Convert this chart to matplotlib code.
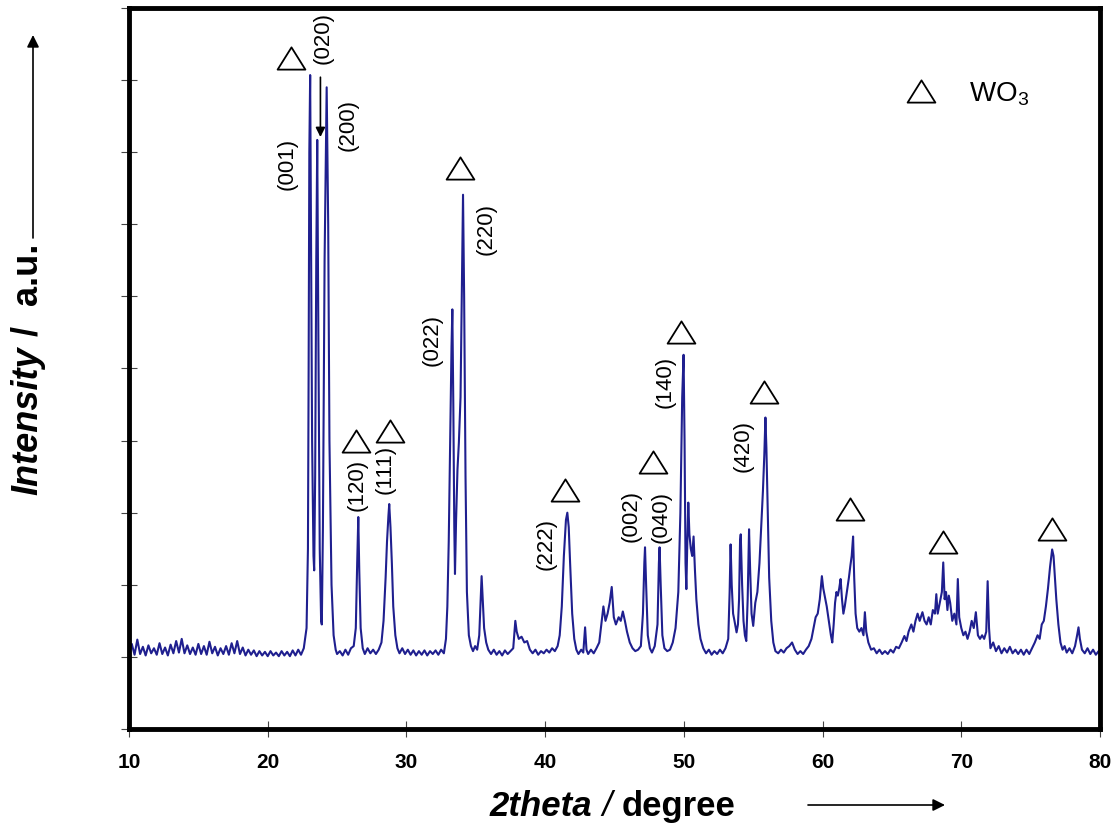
import matplotlib
matplotlib.use('Agg')
import matplotlib.pyplot as plt
from matplotlib.path import Path

# XRD pattern (2theta in degrees, intensity in arbitrary units)
two_theta = [
    # flat noisy start
    10.0, 10.2, 10.4, 10.6, 10.8, 11.0, 11.2, 11.4, 11.6, 11.8, 12.0, 12.2, 12.4, 12.6, 12.8,
    13.0, 13.2, 13.4, 13.6, 13.8, 14.0, 14.2, 14.4, 14.6, 14.8, 15.0, 15.2, 15.4, 15.6, 15.8,
    16.0, 16.2, 16.4, 16.6, 16.8, 17.0, 17.2, 17.4, 17.6, 17.8, 18.0, 18.2, 18.4, 18.6, 18.8,
    19.0, 19.2, 19.4, 19.6, 19.8, 20.0, 20.2, 20.4, 20.6, 20.8, 21.0, 21.2, 21.4, 21.6, 21.8,
    22.0, 22.2, 22.4, 22.6,
    # (001) (020) (200)
    22.8, 22.9, 22.95, 23.0, 23.06, 23.12, 23.2, 23.3, 23.35, 23.42, 23.5, 23.57, 23.65, 23.75,
    23.85, 23.9, 23.98, 24.1, 24.25, 24.36, 24.45, 24.6, 24.75, 24.9, 25.0,
    # (120) (111)
    25.2, 25.4, 25.6, 25.8, 26.0, 26.2, 26.35, 26.45, 26.53, 26.6, 26.7, 26.85, 27.0, 27.2, 27.4,
    27.6, 27.8, 28.0, 28.2, 28.35, 28.5, 28.6, 28.7, 28.76, 28.85, 28.95, 29.05, 29.2, 29.35, 29.5,
    29.7, 29.9, 30.1, 30.3, 30.5, 30.7, 30.9, 31.1, 31.3, 31.5, 31.7, 31.9, 32.1, 32.3, 32.5, 32.7,
    # (022) (220)
    32.85, 32.95, 33.05, 33.15, 33.25, 33.31, 33.38, 33.45, 33.5, 33.58, 33.68, 33.78, 33.9, 34.0,
    34.08, 34.16, 34.26, 34.36, 34.5, 34.65, 34.8, 34.95, 35.1, 35.25, 35.35, 35.42, 35.5, 35.6,
    35.75, 35.9, 36.1, 36.3, 36.5, 36.7, 36.9, 37.1, 37.3, 37.5, 37.7, 37.85, 37.95, 38.1, 38.3,
    38.5, 38.7, 38.9, 39.1, 39.3, 39.5, 39.7, 39.9, 40.1, 40.3, 40.5, 40.7, 40.9,
    # (222)
    41.05, 41.2, 41.35, 41.5, 41.6, 41.7, 41.8, 41.95, 42.1, 42.25, 42.4, 42.6, 42.75, 42.88, 42.98,
    43.1, 43.3, 43.5, 43.7, 43.9, 44.05, 44.2, 44.35, 44.5, 44.65, 44.8, 44.95, 45.1, 45.3, 45.45,
    45.6, 45.75, 45.9, 46.1, 46.3, 46.5, 46.7, 46.9,
    # (002) (040) (140)
    47.05, 47.15, 47.2, 47.28, 47.4, 47.55, 47.7, 47.9, 48.1, 48.2, 48.25, 48.33, 48.45, 48.6,
    48.8, 49.0, 49.2, 49.4, 49.6, 49.75, 49.88, 49.98, 50.05, 50.12, 50.18, 50.25, 50.32, 50.4,
    50.5, 50.6, 50.7, 50.8, 50.9, 51.05, 51.2, 51.4, 51.6, 51.8, 52.0, 52.2, 52.4, 52.6, 52.8,
    # (420) group
    53.0, 53.2, 53.3, 53.37, 53.45, 53.55, 53.65, 53.8, 53.9, 53.98, 54.05, 54.1, 54.2, 54.3,
    54.4, 54.5, 54.6, 54.7, 54.78, 54.88, 55.0, 55.15, 55.3, 55.45, 55.6, 55.7, 55.8, 55.88,
    55.95, 56.05, 56.15, 56.3, 56.45, 56.6, 56.8, 57.0, 57.2, 57.4, 57.6, 57.8, 58.0, 58.2,
    58.4, 58.6, 58.8,
    # 60-63 hump
    59.0, 59.2, 59.35, 59.5, 59.65, 59.8, 59.95, 60.05, 60.15, 60.3, 60.45, 60.6, 60.7, 60.8,
    60.9, 61.0, 61.1, 61.2, 61.3, 61.4, 61.5, 61.6, 61.75, 61.9, 62.0, 62.1, 62.2, 62.28, 62.38,
    62.5, 62.65, 62.8, 62.95, 63.05, 63.15, 63.3, 63.5, 63.7, 63.9, 64.1, 64.3, 64.5, 64.7, 64.9,
    # 66-72 hump
    65.1, 65.3, 65.5, 65.7, 65.9, 66.05, 66.2, 66.4, 66.55, 66.7, 66.85, 67.0, 67.2, 67.35, 67.5,
    67.65, 67.8, 67.95, 68.1, 68.2, 68.3, 68.45, 68.6, 68.7, 68.8, 68.9, 69.0, 69.1, 69.2, 69.35,
    69.5, 69.65, 69.75, 69.85, 70.0, 70.15, 70.3, 70.45, 70.6, 70.75, 70.9, 71.05, 71.2, 71.35,
    71.5, 71.65, 71.8, 71.9, 72.0, 72.1, 72.3, 72.5, 72.7, 72.9, 73.1, 73.3, 73.5, 73.7, 73.9,
    74.1, 74.3, 74.5, 74.7, 74.9,
    # 76.5 peak and tail
    75.1, 75.3, 75.5, 75.65, 75.8, 75.95, 76.1, 76.25, 76.4, 76.55, 76.65, 76.75, 76.85, 77.0,
    77.15, 77.3, 77.45, 77.6, 77.8, 78.0, 78.2, 78.35, 78.45, 78.55, 78.7, 78.9, 79.1, 79.3,
    79.5, 79.7, 79.9, 80.0,
]

intensity = [
    1.05, 1.18, 1.03, 1.24, 1.04, 1.14, 1.02, 1.16, 1.05, 1.12, 1.03, 1.19, 1.04, 1.13, 1.02,
    1.17, 1.05, 1.22, 1.06, 1.25, 1.05, 1.16, 1.04, 1.13, 1.03, 1.18, 1.04, 1.15, 1.03, 1.21,
    1.05, 1.14, 1.02, 1.12, 1.04, 1.15, 1.03, 1.19, 1.05, 1.22, 1.04, 1.13, 1.02, 1.10, 1.03,
    1.09, 1.01, 1.08, 1.02, 1.07, 1.01, 1.08, 1.02, 1.06, 1.01, 1.08, 1.02, 1.07, 1.01, 1.09,
    1.02, 1.10, 1.03, 1.12,
    1.4, 2.5, 5.0, 8.0, 9.07, 7.0, 4.0, 2.4, 2.2, 3.5, 6.5, 8.17, 5.5, 2.5,
    1.5, 1.45, 2.8, 6.5, 8.9, 7.0, 4.0, 2.0, 1.3, 1.1, 1.04,
    1.08, 1.02, 1.10, 1.03, 1.12, 1.15, 1.4, 2.3, 2.94, 2.2, 1.4, 1.12, 1.04, 1.12, 1.05,
    1.10, 1.04, 1.10, 1.2, 1.5, 2.1, 2.6, 2.95, 3.12, 2.8, 2.3, 1.7, 1.3, 1.12, 1.05,
    1.12, 1.04, 1.10, 1.03, 1.09, 1.02, 1.08, 1.03, 1.09, 1.02, 1.08, 1.04, 1.09, 1.03, 1.10, 1.05,
    1.25, 1.7, 2.6, 4.0, 5.3, 5.82, 4.5, 2.8, 2.15, 2.9, 3.6, 3.97, 4.6, 6.2,
    7.41, 6.0, 3.5, 1.9, 1.3, 1.15, 1.08, 1.15, 1.10, 1.3, 1.8, 2.12, 1.8, 1.4,
    1.2, 1.10, 1.04, 1.10, 1.03, 1.08, 1.02, 1.09, 1.04, 1.08, 1.12, 1.5, 1.35, 1.25, 1.28,
    1.2, 1.22, 1.10, 1.05, 1.10, 1.03, 1.08, 1.05, 1.10, 1.06, 1.12, 1.08, 1.15,
    1.3, 1.7, 2.4, 2.9, 3.0, 2.8, 2.3, 1.6, 1.25, 1.10, 1.04, 1.10, 1.06, 1.41, 1.10,
    1.04, 1.10, 1.05, 1.12, 1.2, 1.45, 1.7, 1.5, 1.6, 1.75, 1.97, 1.55, 1.45, 1.55, 1.5,
    1.63, 1.5, 1.35, 1.2, 1.12, 1.08, 1.10, 1.15,
    1.6, 2.3, 2.52, 2.0, 1.3, 1.12, 1.06, 1.15, 1.45, 2.3, 2.52, 2.0, 1.3, 1.12,
    1.08, 1.10, 1.2, 1.4, 1.9, 3.0, 4.6, 5.19, 4.0, 2.3, 1.94, 2.6, 3.14, 2.7,
    2.5, 2.4, 2.67, 2.2, 1.8, 1.45, 1.25, 1.12, 1.05, 1.10, 1.03, 1.08, 1.04, 1.10, 1.05,
    1.12, 1.25, 1.9, 2.56, 2.0, 1.6, 1.5, 1.34, 1.45, 1.8, 2.6, 2.7, 2.0, 1.5,
    1.3, 1.22, 1.8, 2.77, 2.2, 1.6, 1.43, 1.75, 1.9, 2.3, 2.9, 3.3, 3.8, 4.32,
    3.9, 3.0, 2.1, 1.5, 1.2, 1.08, 1.05, 1.10, 1.06, 1.12, 1.15, 1.2, 1.10, 1.04,
    1.08, 1.04, 1.10,
    1.15, 1.25, 1.4, 1.55, 1.6, 1.8, 2.12, 1.95, 1.85, 1.7, 1.5, 1.3, 1.2, 1.45,
    1.75, 1.9, 1.85, 1.95, 2.08, 1.8, 1.6, 1.7, 1.9, 2.1, 2.26, 2.4, 2.67, 2.1, 1.6,
    1.4, 1.35, 1.4, 1.3, 1.62, 1.35, 1.2, 1.10, 1.12, 1.05, 1.10, 1.04, 1.08, 1.04, 1.10,
    1.06, 1.14, 1.12, 1.2, 1.29, 1.22, 1.35, 1.45, 1.35, 1.5, 1.6, 1.5, 1.62, 1.5, 1.45,
    1.55, 1.45, 1.65, 1.6, 1.87, 1.6, 1.75, 1.9, 2.31, 1.8, 1.9, 1.65, 1.85, 1.75, 1.5,
    1.6, 1.45, 2.08, 1.55, 1.4, 1.3, 1.35, 1.25, 1.35, 1.5, 1.4, 1.62, 1.3, 1.25,
    1.3, 1.25, 1.35, 2.05, 1.4, 1.12, 1.2, 1.08, 1.15, 1.05, 1.12, 1.06, 1.14, 1.05, 1.10,
    1.04, 1.10, 1.03, 1.10, 1.04,
    1.12, 1.2, 1.3, 1.25, 1.45, 1.5, 1.7, 1.95, 2.25, 2.49, 2.4, 2.1, 1.8, 1.45,
    1.2, 1.10, 1.15, 1.06, 1.12, 1.05, 1.15, 1.3, 1.41, 1.25, 1.10, 1.05, 1.12, 1.04,
    1.10, 1.03, 1.08, 1.05,
]

# Miller indices written next to the peaks
hkl_text = ['(001)', '(020)', '(200)', '(120)', '(111)', '(022)', '(220)',
            '(222)', '(002)', '(040)', '(140)', '(420)']
hkl_x = [21.40, 24.00, 25.80, 26.45, 28.47, 31.87, 35.76, 40.09, 46.23, 48.39, 48.68, 54.24]
hkl_y = [7.84, 9.58, 8.38, 3.39, 3.60, 5.40, 6.93, 2.56, 2.95, 2.94, 4.82, 3.92]

# WO3 triangle markers
tri_x = [21.69, 33.89, 26.40, 28.85, 41.46, 47.74, 49.76, 55.75, 61.96, 68.67, 76.54]
tri_y = [9.31, 7.78, 4.00, 4.14, 3.32, 3.71, 5.50, 4.67, 3.05, 2.59, 2.78]

plt.rcParams['font.family'] = ['Liberation Sans', 'DejaVu Sans']
plt.rcParams['mathtext.fontset'] = 'custom'
plt.rcParams['mathtext.rm'] = 'Liberation Sans'
plt.rcParams['mathtext.default'] = 'rm'

W, H = 1115, 825
fig = plt.figure(figsize=(W / 100, H / 100), dpi=100)
ax = fig.add_axes([129 / W, 1 - 729 / H, (1100 - 129) / W, (729 - 8) / H])

ax.plot(two_theta, intensity, color='#1f1f8f', lw=1.5)

triangle = Path([(-1, -0.8), (1, -0.8), (0, 0.8), (-1, -0.8)], closed=True)
ax.plot(tri_x, tri_y, ls='none', marker=triangle, ms=20, mfc='white', mec='black', mew=1.3)
ax.plot([67.08], [8.85], ls='none', marker=triangle, ms=20, mfc='white', mec='black', mew=1.3)
ax.text(70.55, 8.7, 'WO$_3$', fontsize=20, ha='left', va='baseline')

for t, x, y in zip(hkl_text, hkl_x, hkl_y):
    ax.text(x, y, t, rotation=90, fontsize=16, ha='center', va='center')

# arrow pointing at the (020) peak
ax.annotate('', xy=(23.8, 8.21), xytext=(23.8, 9.04),
            arrowprops=dict(arrowstyle='-|>', color='k', lw=1.2, mutation_scale=14,
                            shrinkA=0, shrinkB=0))

ax.set_xlim(10, 80)
ax.set_ylim(0, 10)
ax.set_xticks(range(10, 81, 10))
ax.set_yticks(range(0, 11))
ax.tick_params(axis='both', direction='inout', length=11, width=0.8, color='#444444',
               labelsize=15, pad=12, labelleft=False)
for lbl in ax.get_xticklabels():
    lbl.set_fontweight('bold')
for sp in ax.spines.values():
    sp.set_linewidth(3.5)

# y label: Intensity / a.u. with arrow
t1 = fig.text(28 / W, 330 / H, 'Intensity', rotation=90, fontsize=26, fontweight='bold',
              style='italic', ha='center', va='bottom')
ax.annotate(' /  a.u.', xy=(0.5, 1), xycoords=t1, rotation=90, fontsize=26, fontweight='bold',
            ha='center', va='bottom', annotation_clip=False)
ax.annotate('', xy=(33, 790), xycoords='figure pixels', xytext=(33, 587),
            textcoords='figure pixels',
            arrowprops=dict(arrowstyle='-|>', color='k', lw=1.2, mutation_scale=18,
                            shrinkA=0, shrinkB=0))

# x label: 2theta / degree with arrow
x1 = fig.text(490 / W, 9 / H, '2theta', fontsize=25, fontweight='bold', style='italic',
              ha='left', va='baseline')
x2 = ax.annotate(' / ', xy=(1, 0), xycoords=x1, fontsize=25, style='italic',
                 ha='left', va='bottom', annotation_clip=False)
ax.annotate('degree', xy=(1, 0), xycoords=x2, fontsize=25, fontweight='bold',
            ha='left', va='bottom', annotation_clip=False)
ax.annotate('', xy=(945, 20), xycoords='figure pixels', xytext=(808, 20),
            textcoords='figure pixels',
            arrowprops=dict(arrowstyle='-|>', color='k', lw=1.2, mutation_scale=18,
                            shrinkA=0, shrinkB=0))

fig.savefig('out.png', dpi=100)
